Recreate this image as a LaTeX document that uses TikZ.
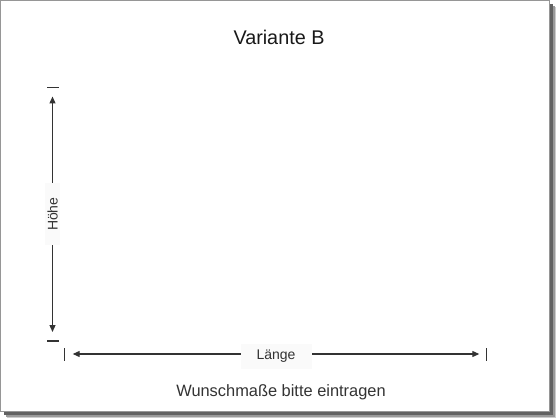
\documentclass[tikz,border=0pt]{standalone}
\usepackage{fontspec}
\setmainfont{Liberation Sans}
\usepackage{tikz}
\usetikzlibrary{arrows.meta,positioning}
\usepackage{xcolor}
\definecolor{dimgray}{RGB}{51,51,51}
\definecolor{framegray}{RGB}{150,150,150}

\begin{document}
\begin{tikzpicture}[x=1pt, y=-1pt,
    dimline/.style={dimgray, line width=1.2pt,
        {Triangle[length=7pt,width=6pt]}-{Triangle[length=7pt,width=6pt]}},
    dimtick/.style={dimgray, line width=1.5pt},
    dimlabel/.style={fill=black!2, text=dimgray, inner sep=0pt,
        font=\fontsize{14}{16}\selectfont}]

\useasboundingbox (0,0) rectangle (560,420);

% Sheet with soft shadow
\fill[black!20] (7,7) rectangle (556,417.5);
\fill[black!40] (6,6) rectangle (555,416.5);
\fill[black!62] (4,4) rectangle (553,415);
\filldraw[fill=white, draw=framegray, line width=1pt] (0.5,0.5) rectangle (549,411);

% Dimension end points
\coordinate (hTop) at (52.5,96.5);
\coordinate (hBot) at (52.5,332);
\coordinate (lLeft) at (72.7,354);
\coordinate (lRight) at (479.3,354);

% Tick marks
\coordinate (tTop) at (53,87.5);
\coordinate (tBot) at (53,341);
\coordinate (tLeft) at (64.7,354.5);
\coordinate (tRight) at (486.7,354.5);

\foreach \c in {tTop,tBot} {
    \draw[dimtick] ([xshift=-6pt]\c) -- ([xshift=6pt]\c);
}
\foreach \c in {tLeft,tRight} {
    \draw[dimtick] ([yshift=-6.2pt]\c) -- ([yshift=6.2pt]\c);
}

% Height and length arrows
\draw[dimline] (hTop) -- node[dimlabel, rotate=90, minimum width=62pt, minimum height=15pt] (hoehe) {Höhe} (hBot);
\draw[dimline] (lLeft) -- node[dimlabel, minimum width=71pt, minimum height=25pt, yshift=-2pt] (laenge) {Länge} (lRight);

% Texts
\node[font=\fontsize{19.8}{23}\selectfont, text=black!90] (title) at (279,37.5) {Variante B};
\node[anchor=base, font=\fontsize{16.4}{19}\selectfont, text=dimgray] (note) at (281,396) {Wunschmaße bitte eintragen};

\end{tikzpicture}
\end{document}
